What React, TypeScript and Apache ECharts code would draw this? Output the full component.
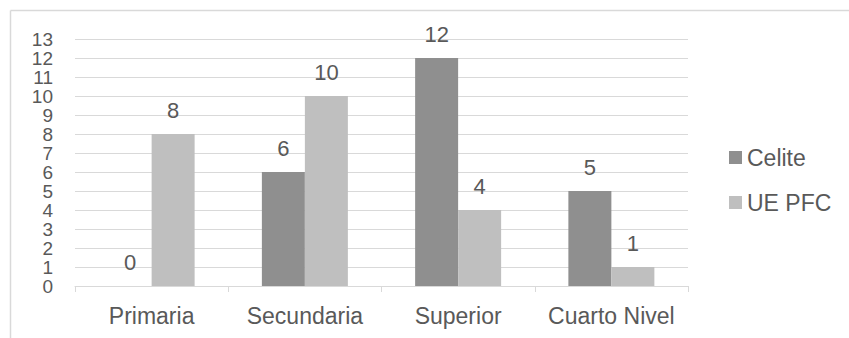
import React, { useEffect, useRef } from "react";
import * as echarts from "echarts";

const categories = ["Primaria", "Secundaria", "Superior", "Cuarto Nivel"];
const celite = [0, 6, 12, 5];
const uePfc = [8, 10, 4, 1];
const seriesNames = ["Celite", "UE PFC"];

const FONT = "'Liberation Sans', Arial, sans-serif";
const TEXT = "#595959";

export default function App() {
  const ref = useRef<HTMLDivElement>(null);

  useEffect(() => {
    if (!ref.current) return;
    const chart = echarts.init(ref.current, null, { renderer: "svg" });
    const label = {
      show: true,
      position: "top" as const,
      distance: 13,
      color: TEXT,
      fontSize: 22,
      fontFamily: FONT,
    };
    chart.setOption({
      animation: false,
      backgroundColor: "#ffffff",
      textStyle: { fontFamily: FONT },
      graphic: [
        {
          type: "line",
          shape: { x1: 10.5, y1: 10.5, x2: 849, y2: 10.5 },
          style: { stroke: "#d9d9d9", lineWidth: 1.5 },
        },
        {
          type: "line",
          shape: { x1: 10.5, y1: 10.5, x2: 10.5, y2: 338 },
          style: { stroke: "#d9d9d9", lineWidth: 1.5 },
        },
      ],
      grid: { left: 75, right: 161, top: 39, bottom: 52, containLabel: false },
      legend: {
        orient: "vertical",
        left: 729,
        top: 146,
        padding: 0,
        itemWidth: 13,
        itemHeight: 13,
        itemGap: 22,
        icon: "rect",
        data: seriesNames,
        textStyle: { color: TEXT, fontSize: 23, fontFamily: FONT },
      },
      xAxis: {
        type: "category",
        data: categories,
        axisLine: { lineStyle: { color: "#d9d9d9", width: 1 } },
        axisTick: { show: true, length: 6, lineStyle: { color: "#d9d9d9" } },
        axisLabel: {
          color: TEXT,
          fontSize: 23,
          fontFamily: FONT,
          margin: 18,
          interval: 0,
          hideOverlap: false,
        },
      },
      yAxis: {
        type: "value",
        min: 0,
        max: 13,
        interval: 1,
        axisLine: { show: false },
        axisTick: { show: false },
        splitLine: { lineStyle: { color: "#d9d9d9", width: 1 } },
        axisLabel: {
          color: TEXT,
          fontSize: 19,
          fontFamily: FONT,
          margin: 22,
          lineHeight: 19,
          showMinLabel: true,
          showMaxLabel: true,
          hideOverlap: false,
        },
      },
      series: [
        {
          name: seriesNames[0],
          type: "bar",
          data: celite,
          barWidth: 43,
          barGap: "0%",
          itemStyle: { color: "#8f8f8f" },
          label,
        },
        {
          name: seriesNames[1],
          type: "bar",
          data: uePfc,
          barWidth: 43,
          barGap: "0%",
          itemStyle: { color: "#bfbfbf" },
          label,
        },
      ],
    });
    return () => chart.dispose();
  }, []);

  return (
    <div
      ref={ref}
      style={{ position: "fixed", left: 0, top: 0, width: 849, height: 338 }}
    />
  );
}
